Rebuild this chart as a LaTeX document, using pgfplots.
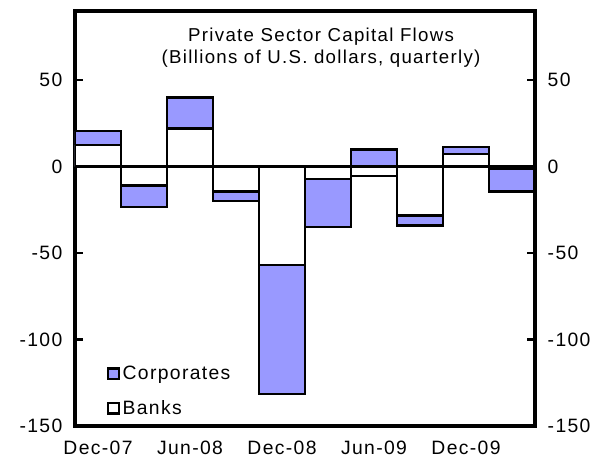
\documentclass[border=0pt]{standalone}
\usepackage{fontspec}
\setmainfont[LetterSpace=7]{Liberation Sans}
\usepackage{pgfplots}
\pgfplotsset{compat=1.18}
\definecolor{corp}{RGB}{153,153,255}
\pgfplotsset{
  mylegend/.style={legend image code/.code={\draw[##1, line width=1.8pt] (0pt,-4pt) rectangle (8pt,4pt);}},
  common/.style={
    at={(0pt,0pt)}, anchor=south west,
    scale only axis, width=345pt, height=311.25pt,
    xmin=-0.5, xmax=9.5, ymin=-150, ymax=90,
    ytick={-150,-100,-50,0,50},
    axis line style={line width=3pt},
    tick label style={font=\fontsize{14.5}{17}\selectfont},
    /pgf/number format/assume math mode=true,
  }
}
\begin{document}
\begin{tikzpicture}
\path[use as bounding box] (-56.25pt,-25.5pt) rectangle (396.75pt,319.5pt);
\begin{axis}[common,
  xtick={0,2,4,6,8}, xticklabels={Dec-07,Jun-08,Dec-08,Jun-09,Dec-09},
  xtick style={draw=none},
  ytick style={draw=none},
  xticklabel style={yshift=-8pt},
  yticklabel style={xshift=-6pt},
  yticklabel pos=left,
  legend style={at={(0.06,0.01)}, anchor=south west, draw=none, fill=none,
    row sep=10pt, font=\fontsize{14.5}{17}\selectfont, cells={anchor=west}},
  extra y ticks={0}, extra y tick labels={},
  extra y tick style={grid=major, major grid style={black, line width=2.7pt}},
]
\addplot[ybar, bar width=1, bar shift=0pt, fill=corp, draw=black, line width=1.8pt, mylegend]
  coordinates {(0,20.5) (1,-23.5) (2,40) (3,-20) (4,-131.5) (5,-35) (6,10) (7,-34) (8,11.3) (9,-14.5)};
\addlegendentry{Corporates}
\addplot[ybar, bar width=1, bar shift=0pt, fill=white, draw=black, line width=1.8pt, mylegend]
  coordinates {(0,12.5) (1,-11) (2,22) (3,-14.5) (4,-57) (5,-7) (6,-5.5) (7,-28.3) (8,7.2) (9,-1.5)};
\addlegendentry{Banks}
\pgfplotsinvokeforeach{50,-50,-100}{
  \draw[black, line width=2pt] (axis cs:-0.5,#1) -- ++(6pt,0pt);
  \draw[black, line width=2pt] (axis cs:9.5,#1) -- ++(-6pt,0pt);
}
\node[align=center, font=\fontsize{14}{16.5}\selectfont, anchor=north] at (axis description cs:0.535,0.97)
  {Private Sector Capital Flows\\(Billions of U.S. dollars, quarterly)};
\end{axis}
\begin{axis}[common,
  hide x axis, axis y line*=right,
  yticklabel style={xshift=6pt},
  ytick style={draw=none},
]
\addplot[draw=none] coordinates {(0,0)};
\end{axis}
\end{tikzpicture}
\end{document}
